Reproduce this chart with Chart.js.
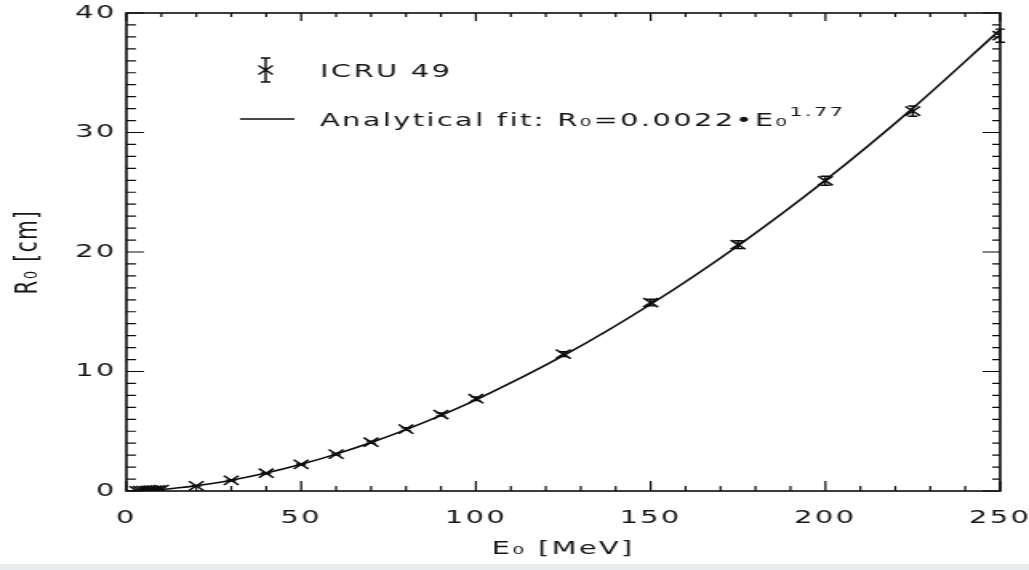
<!DOCTYPE html>
<html>
<head>
<meta charset="utf-8">
<script src="https://cdn.jsdelivr.net/npm/chart.js@4.4.1/dist/chart.umd.min.js"></script>
<style>
  html, body { margin: 0; padding: 0; background: #e9edf1; }
  canvas { display: block; background: #fff; }
</style>
</head>
<body>
<!-- drawn narrow, then stretched sideways like the scanned original -->
<canvas id="rangeChart" width="643" height="564" style="width:1029px;height:564px"></canvas>
<script>
// ICRU 49 proton ranges in water
const energies = [3, 4, 5, 6, 7, 8, 9, 10, 20, 30, 40, 50, 60, 70, 80, 90, 100, 125, 150, 175, 200, 225, 250];
const ranges   = [0.015, 0.025, 0.036, 0.050, 0.065, 0.081, 0.099, 0.123, 0.43, 0.89, 1.49, 2.23, 3.09, 4.08, 5.18, 6.40, 7.72, 11.46, 15.77, 20.61, 25.96, 31.79, 38.1];
const rangeErr = [0, 0, 0, 0, 0, 0, 0, 0, 0.02, 0.03, 0.05, 0.06, 0.08, 0.09, 0.11, 0.13, 0.15, 0.2, 0.28, 0.33, 0.38, 0.43, 0.55];

// analytical fit curve
const fitE = [0, 5, 10, 15, 20, 25, 30, 40, 50, 60, 70, 80, 90, 100, 125, 150, 175, 200, 225, 250];
const fitR = [0, 0.038, 0.130, 0.266, 0.442, 0.656, 0.906, 1.507, 2.236, 3.088, 4.056, 5.137, 6.329, 7.628, 11.32, 15.63, 20.53, 26.00, 32.03, 38.6];

const xTicks = [0, 50, 100, 150, 200, 250];
const yTicks = [0, 10, 20, 30, 40];
const xMinorStep = 10;
const yMinorStep = 1;

const ink = '#0c0c0c';
const textInk = '#141414';
const font = { family: '"DejaVu Sans", sans-serif', size: 18 };
const yTitleFont = { family: '"DejaVu Sans", sans-serif', size: 20 };

const spacing = {
  id: 'spacing',
  beforeDraw(chart) { chart.ctx.letterSpacing = '1.5px'; }
};

const frame = {
  id: 'frame',
  afterDraw(chart) {
    const { ctx, chartArea: a, scales: { x, y } } = chart;
    ctx.save();
    ctx.strokeStyle = ink;
    ctx.lineWidth = 1.6;
    ctx.strokeRect(a.left, a.top, a.right - a.left, a.bottom - a.top);
    ctx.lineWidth = 1.2;
    ctx.beginPath();
    for (let v = x.min; v <= x.max; v += xMinorStep) {
      const px = x.getPixelForValue(v);
      const major = xTicks.includes(v);
      ctx.moveTo(px, a.bottom); ctx.lineTo(px, a.bottom - (major ? 10 : 5));
      ctx.moveTo(px, a.top);    ctx.lineTo(px, a.top + (major ? 8 : 4));
    }
    for (let v = y.min; v <= y.max; v += yMinorStep) {
      const py = y.getPixelForValue(v);
      const major = yTicks.includes(v);
      ctx.moveTo(a.left, py);  ctx.lineTo(a.left + (major ? 11 : 6), py);
      ctx.moveTo(a.right, py); ctx.lineTo(a.right - (major ? 11 : 5), py);
    }
    ctx.stroke();
    ctx.restore();
  }
};

const errorBars = {
  id: 'errorBars',
  afterDatasetsDraw(chart) {
    const { ctx, scales: { x, y } } = chart;
    ctx.save();
    ctx.strokeStyle = ink;
    ctx.lineWidth = 1.4;
    ctx.beginPath();
    energies.forEach((e, i) => {
      if (!rangeErr[i]) return;
      const px = x.getPixelForValue(e);
      const lo = y.getPixelForValue(ranges[i] - rangeErr[i]);
      const hi = y.getPixelForValue(ranges[i] + rangeErr[i]);
      ctx.moveTo(px, lo); ctx.lineTo(px, hi);
      ctx.moveTo(px - 3, lo); ctx.lineTo(px + 3, lo);
      ctx.moveTo(px - 3, hi); ctx.lineTo(px + 3, hi);
    });
    ctx.stroke();
    ctx.restore();
  }
};

const legendBox = {
  id: 'legendBox',
  afterDraw(chart) {
    const ctx = chart.ctx;
    ctx.save();
    ctx.strokeStyle = ink;
    ctx.fillStyle = textInk;
    ctx.lineWidth = 1.4;
    // data symbol with its error bar
    const mx = 166, my = 70;
    ctx.beginPath();
    ctx.moveTo(mx, my - 12); ctx.lineTo(mx, my + 12);
    ctx.moveTo(mx - 3, my - 12); ctx.lineTo(mx + 3, my - 12);
    ctx.moveTo(mx - 3, my + 12); ctx.lineTo(mx + 3, my + 12);
    ctx.moveTo(mx - 4.5, my - 4.5); ctx.lineTo(mx + 4.5, my + 4.5);
    ctx.moveTo(mx - 4.5, my + 4.5); ctx.lineTo(mx + 4.5, my - 4.5);
    ctx.stroke();
    // fit line sample
    ctx.beginPath();
    ctx.moveTo(150, 119); ctx.lineTo(184, 119);
    ctx.stroke();

    ctx.letterSpacing = '1.5px';
    ctx.textBaseline = 'alphabetic';
    ctx.textAlign = 'left';
    ctx.font = '18px "DejaVu Sans"';
    ctx.fillText('ICRU 49', 200, 77);
    const fitText = 'Analytical fit: R\u2080=0.0022\u2022E\u2080';
    ctx.fillText(fitText, 200, 126);
    const w = ctx.measureText(fitText).width;
    ctx.font = '13px "DejaVu Sans"';
    ctx.fillText('1.77', 200 + w, 116);
    ctx.restore();
  }
};

new Chart(document.getElementById('rangeChart'), {
  type: 'scatter',
  data: {
    datasets: [
      {
        label: 'Analytical fit: R0=0.0022*E0^1.77',
        data: fitE.map((e, i) => ({ x: e, y: fitR[i] })),
        showLine: true,
        borderColor: ink,
        borderWidth: 1.6,
        pointRadius: 0,
        cubicInterpolationMode: 'monotone',
        fill: false,
      },
      {
        label: 'ICRU 49',
        data: energies.map((e, i) => ({ x: e, y: ranges[i] })),
        pointStyle: 'crossRot',
        pointRadius: 6.5,
        borderColor: ink,
        backgroundColor: ink,
        borderWidth: 1.5,
      }
    ]
  },
  options: {
    responsive: false,
    animation: false,
    devicePixelRatio: 1,
    layout: { padding: { top: 13, right: 18, left: 0, bottom: 0 } },
    plugins: { legend: { display: false }, tooltip: { enabled: false } },
    scales: {
      x: {
        type: 'linear',
        min: 0, max: 250,
        afterBuildTicks: s => { s.ticks = xTicks.map(v => ({ value: v })); },
        afterFit: s => { s.height = 73; s.paddingLeft = 0; s.paddingRight = 0; },
        ticks: { padding: 17, maxRotation: 0, autoSkip: false, font, color: textInk },
        grid: { display: false, drawTicks: false },
        border: { display: false },
        title: { display: true, text: 'E\u2080 [MeV]', font, color: textInk, padding: { top: 0, bottom: 4 } }
      },
      y: {
        type: 'linear',
        min: 0, max: 40,
        afterBuildTicks: s => { s.ticks = yTicks.map(v => ({ value: v })); },
        afterFit: s => { s.width = 79; s.paddingTop = 0; s.paddingBottom = 0; },
        ticks: { padding: 6, font, color: textInk },
        grid: { display: false, drawTicks: false },
        border: { display: false },
        title: { display: true, text: 'R\u2080 [cm]', font: yTitleFont, color: textInk, padding: { top: 6, bottom: 0 } }
      }
    }
  },
  plugins: [spacing, errorBars, frame, legendBox]
});
</script>
</body>
</html>
